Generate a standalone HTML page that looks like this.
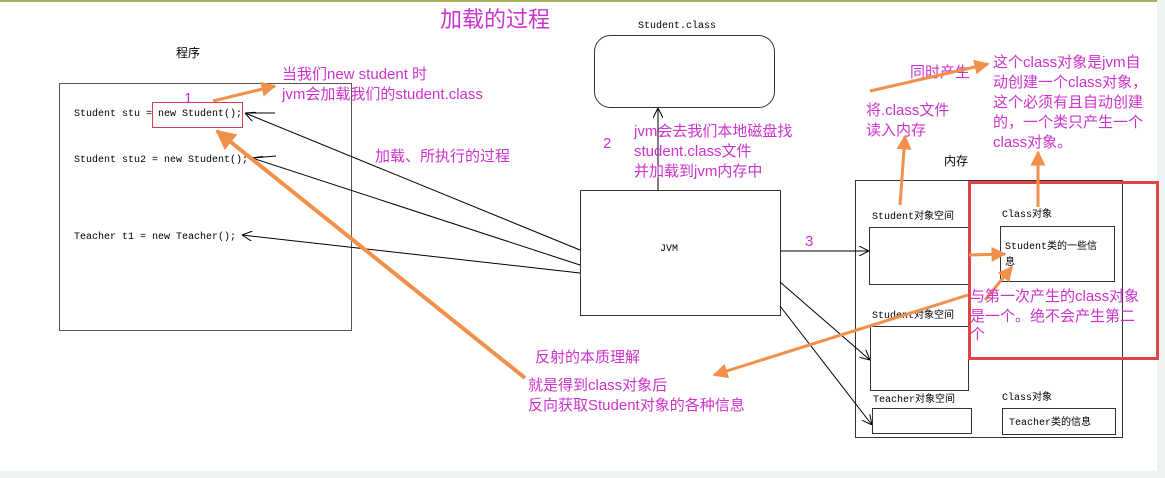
<!DOCTYPE html>
<html><head><meta charset="utf-8"><style>
body{margin:0;background:#fff}
svg{display:block}
.m{fill:#cc33cc;font-family:"Liberation Sans","Noto Sans CJK SC",sans-serif;font-size:15px}
.c{fill:#000;font-family:"Liberation Mono","Noto Sans CJK SC",monospace;font-size:10px}
</style></head><body>
<svg width="1165" height="478" viewBox="0 0 1165 478" xmlns="http://www.w3.org/2000/svg">
<defs>
<marker id="o" viewBox="0 0 10 10" refX="9" refY="5" markerWidth="5" markerHeight="5" orient="auto"><path d="M0,0 L10,5 L0,10 z" fill="#f0904a"/></marker>
<marker id="b" viewBox="0 0 10 10" refX="10" refY="5" markerWidth="10" markerHeight="10" orient="auto" markerUnits="userSpaceOnUse"><path d="M0,0 L10,5 L0,10" fill="none" stroke="#000" stroke-width="1"/></marker>
</defs>
<rect x="0" y="0" width="1165" height="2" fill="#a8b060"/>
<rect x="1157" y="0" width="8" height="478" fill="#eef2f2"/>
<rect x="0" y="471" width="1165" height="7" fill="#eef2f2"/>
<text x="440" y="27" class="m" style="font-size:22px">加载的过程</text>
<text x="176" y="57" class="c" style="font-size:12px">程序</text>
<rect x="59.5" y="83.5" width="292" height="247" fill="none" stroke="#555"/>
<rect x="152.5" y="102.5" width="90" height="25" fill="none" stroke="#d04050"/>
<text x="74" y="116" class="c">Student stu = new Student();</text>
<text x="74" y="162" class="c">Student stu2 = new Student();</text>
<text x="74" y="239" class="c">Teacher t1 = new Teacher();</text>
<text x="184" y="103" class="m">1</text>
<line x1="213" y1="101" x2="275" y2="86" stroke="#f0904a" stroke-width="3" marker-end="url(#o)"/>
<text x="282" y="79" class="m">当我们new student 时</text>
<text x="282" y="99" class="m">jvm会加载我们的student.class</text>
<line x1="580" y1="250" x2="245" y2="113" stroke="#000" marker-end="url(#b)"/>
<line x1="580" y1="265" x2="252" y2="158" stroke="#000" marker-end="url(#b)"/>
<line x1="580" y1="273" x2="242" y2="235" stroke="#000" marker-end="url(#b)"/>
<line x1="245" y1="113" x2="275" y2="113" stroke="#000"/>
<line x1="252" y1="158" x2="276" y2="156" stroke="#000"/>
<text x="375" y="161" class="m">加载、所执行的过程</text>
<line x1="525" y1="378" x2="217" y2="131" stroke="#f0904a" stroke-width="4" marker-end="url(#o)"/>
<text x="638" y="28" class="c">Student.class</text>
<rect x="594.5" y="35.5" width="180" height="72" rx="16" fill="none" stroke="#333"/>
<line x1="658" y1="190" x2="658" y2="108" stroke="#000" marker-end="url(#b)"/>
<text x="603" y="148" class="m">2</text>
<text x="634" y="136" class="m">jvm会去我们本地磁盘找</text>
<text x="634" y="156" class="m">student.class文件</text>
<text x="634" y="176" class="m">并加载到jvm内存中</text>
<rect x="580.5" y="190.5" width="200" height="125" fill="#fff" stroke="#333"/>
<text x="660" y="251" class="c">JVM</text>
<text x="805" y="246" class="m">3</text>
<text x="944" y="165" class="c" style="font-size:12px">内存</text>
<rect x="855.5" y="180.5" width="267" height="257" fill="none" stroke="#333"/>
<text x="872" y="219" class="c">Student对象空间</text>
<rect x="869.5" y="227.5" width="99" height="57" fill="none" stroke="#333"/>
<line x1="780" y1="251" x2="869" y2="251" stroke="#000" marker-end="url(#b)"/>
<line x1="780" y1="282" x2="870" y2="360" stroke="#000" marker-end="url(#b)"/>
<line x1="780" y1="306" x2="872" y2="425" stroke="#000" marker-end="url(#b)"/>
<text x="872" y="318" class="c">Student对象空间</text>
<rect x="870.5" y="326.5" width="98" height="64" fill="none" stroke="#333"/>
<text x="873" y="402" class="c">Teacher对象空间</text>
<rect x="872.5" y="408.5" width="99" height="25" fill="none" stroke="#333"/>
<text x="1002" y="217" class="c">Class对象</text>
<rect x="1000.5" y="226.5" width="114" height="55" fill="none" stroke="#333"/>
<text x="1005" y="249" class="c">Student类的一些信</text>
<text x="1005" y="265" class="c">息</text>
<text x="1002" y="400" class="c">Class对象</text>
<rect x="1002.5" y="408.5" width="113" height="26" fill="none" stroke="#333"/>
<text x="1009" y="425" class="c">Teacher类的信息</text>
<rect x="969.5" y="182.5" width="188" height="176" fill="none" stroke="#e04545" stroke-width="3"/>
<line x1="900" y1="205" x2="905" y2="136" stroke="#f0904a" stroke-width="3" marker-end="url(#o)"/>
<text x="866" y="115" class="m">将.class文件</text>
<text x="866" y="135" class="m">读入内存</text>
<text x="910" y="77" class="m">同时产生</text>
<line x1="870" y1="91" x2="988" y2="64" stroke="#f0904a" stroke-width="3" marker-end="url(#o)"/>
<text x="993" y="67" class="m">这个class对象是jvm自</text>
<text x="993" y="87" class="m">动创建一个class对象，</text>
<text x="993" y="107" class="m">这个必须有且自动创建</text>
<text x="993" y="127" class="m">的，一个类只产生一个</text>
<text x="993" y="147" class="m">class对象。</text>
<line x1="1038" y1="207" x2="1038" y2="152" stroke="#f0904a" stroke-width="3" marker-end="url(#o)"/>
<line x1="969" y1="255" x2="1005" y2="254" stroke="#f0904a" stroke-width="3" marker-end="url(#o)"/>
<line x1="985" y1="300" x2="1012" y2="267" stroke="#f0904a" stroke-width="3" marker-end="url(#o)"/>
<line x1="968" y1="295" x2="714" y2="375" stroke="#f0904a" stroke-width="3" marker-end="url(#o)"/>
<text x="970" y="301" class="m">与第一次产生的class对象</text>
<text x="970" y="321" class="m">是一个。绝不会产生第二</text>
<text x="970" y="339" class="m">个</text>
<text x="535" y="362" class="m">反射的本质理解</text>
<text x="528" y="390" class="m">就是得到class对象后</text>
<text x="528" y="410" class="m">反向获取Student对象的各种信息</text>
</svg>
</body></html>
